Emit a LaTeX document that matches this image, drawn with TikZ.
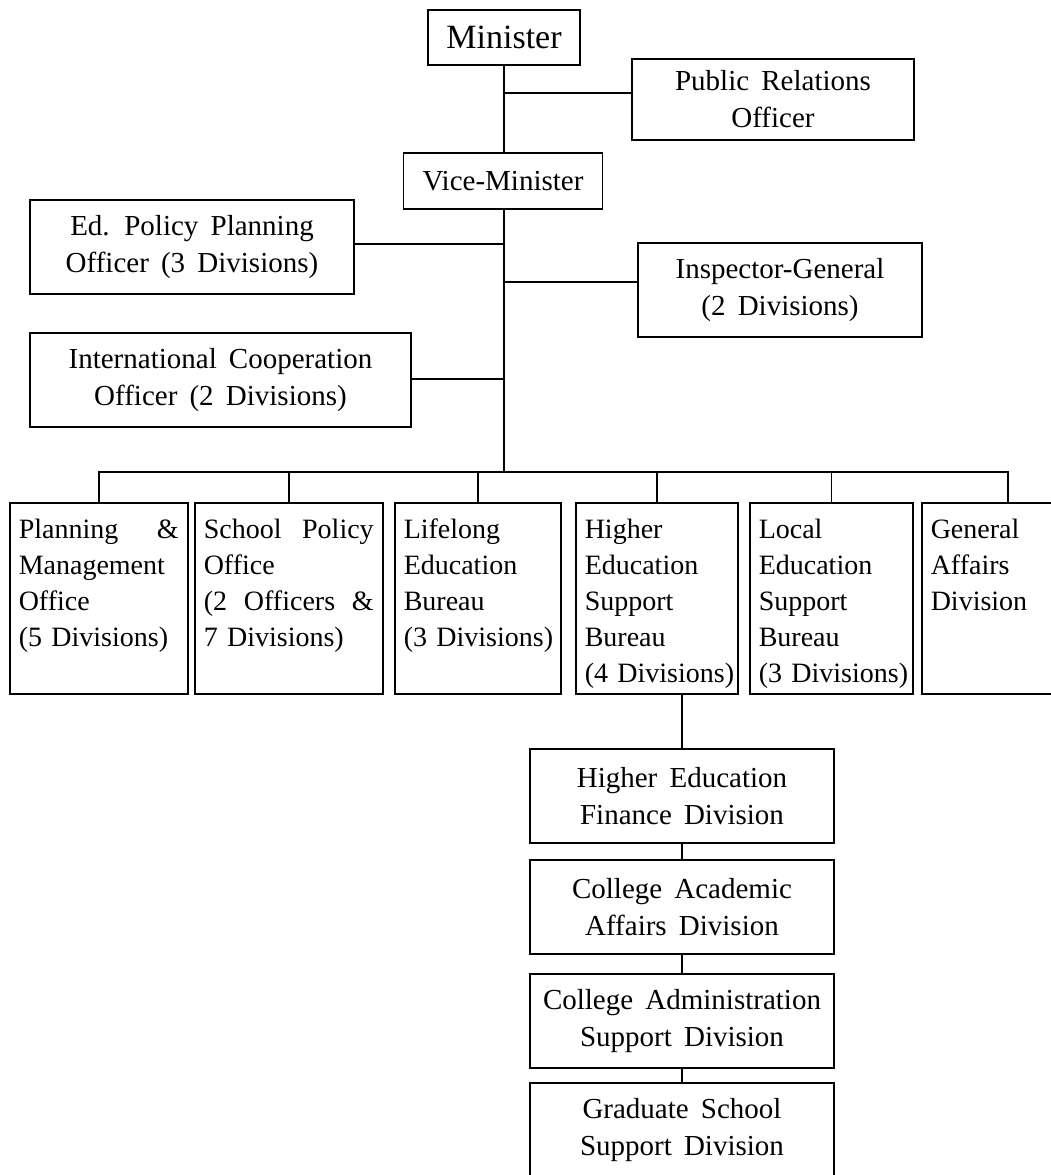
\documentclass[tikz,border=0pt]{standalone}
\usepackage{fontspec}
\setmainfont{Liberation Serif}

\begin{document}
\begin{tikzpicture}[x=1pt, y=-1pt,
  box/.style={draw, line width=1.5pt, align=center, inner sep=0pt,
    font=\fontsize{29}{37}\selectfont,
    execute at begin node={\spaceskip=0.42em\relax}},
  unit/.style={draw, line width=1.5pt, anchor=north west, align=left,
    inner xsep=9pt, inner ysep=0pt, text height=36pt, text depth=155pt,
    font=\fontsize{28}{36}\selectfont},
  link/.style={line width=1.5pt}]

  \useasboundingbox (0,0) rectangle (1051,1175);
  \clip (0,0) rectangle (1051,1175);

  % minister and the officers next to the main line
  \node[box, minimum width=152pt, minimum height=55pt,
    font=\fontsize{34}{40}\selectfont] (minister) at (504,37.5) {Minister};
  \node[box, minimum width=282pt, minimum height=81pt] (pr) at (773,99.5)
    {Public Relations\\Officer};
  \node[box, minimum width=199pt, minimum height=56pt] (vice) at (503,181) {Vice-Minister};
  \node[box, minimum width=324pt, minimum height=94pt] (edpol) at (192,247)
    {Ed. Policy Planning\\Officer (3 Divisions)};
  \node[box, minimum width=284pt, minimum height=94pt] (insp) at (780,290)
    {Inspector-General\\(2 Divisions)};
  \node[box, minimum width=381pt, minimum height=94pt] (intl) at (220.5,380)
    {International Cooperation\\Officer (2 Divisions)};

  % offices and bureaus
  \node[unit, text width=160pt] (plan) at (9,502)
    {Planning\hfill\&\\Management\\Office\\\mbox{(5 Divisions)}};
  \node[unit, text width=170pt] (school) at (194,502)
    {School\hfill Policy\\Office\\(2\hfill Officers\hfill\&\\\mbox{7 Divisions)}};
  \node[unit, text width=148pt] (life) at (394,502)
    {Lifelong\\Education\\Bureau\\\mbox{(3 Divisions)}};
  \node[unit, text width=144pt] (higher) at (575,502)
    {Higher\\Education\\Support\\Bureau\\\mbox{(4 Divisions)}};
  \node[unit, text width=145pt] (local) at (749,502)
    {Local\\Education\\Support\\Bureau\\\mbox{(3 Divisions)}};
  \node[unit, text width=154pt] (gen) at (921,502)
    {General\\Affairs\\Division};

  % divisions under the higher education bureau
  \node[box, minimum width=304pt, minimum height=94pt] (fin) at (682,796)
    {Higher Education\\Finance Division};
  \node[box, minimum width=304pt, minimum height=94pt] (acad) at (682,907)
    {College Academic\\Affairs Division};
  \node[box, minimum width=304pt, minimum height=94pt] (admin) at (682,1021)
    {College Administration\\Support Division};
  \node[box, minimum width=304pt, minimum height=94pt] (grad) at (682,1130)
    {Graduate School\\Support Division};

  % main line
  \coordinate (bus) at (504,472);
  \draw[link] (minister) -- (minister |- vice.north);
  \draw[link] (minister |- vice.south) -- (bus);

  \coordinate (prj) at (504,93);
  \coordinate (edj) at (504,244);
  \coordinate (inj) at (504,282);
  \coordinate (icj) at (504,379);
  \draw[link] (prj) -- (prj -| pr.west);
  \draw[link] (edj) -- (edj -| edpol.east);
  \draw[link] (inj) -- (inj -| insp.west);
  \draw[link] (icj) -- (icj -| intl.east);

  % bus to the offices
  \draw[link] (plan.north) |- (bus -| gen.north) -- (gen.north);
  \foreach \u in {school, life, higher, local}
    \draw[link] (\u.north) -- (\u.north |- bus);

  \draw[link] (fin.north) -- (fin.north |- higher.south);
  \draw[link] (fin) -- (acad);
  \draw[link] (acad) -- (admin);
  \draw[link] (admin) -- (grad);

\end{tikzpicture}
\end{document}
